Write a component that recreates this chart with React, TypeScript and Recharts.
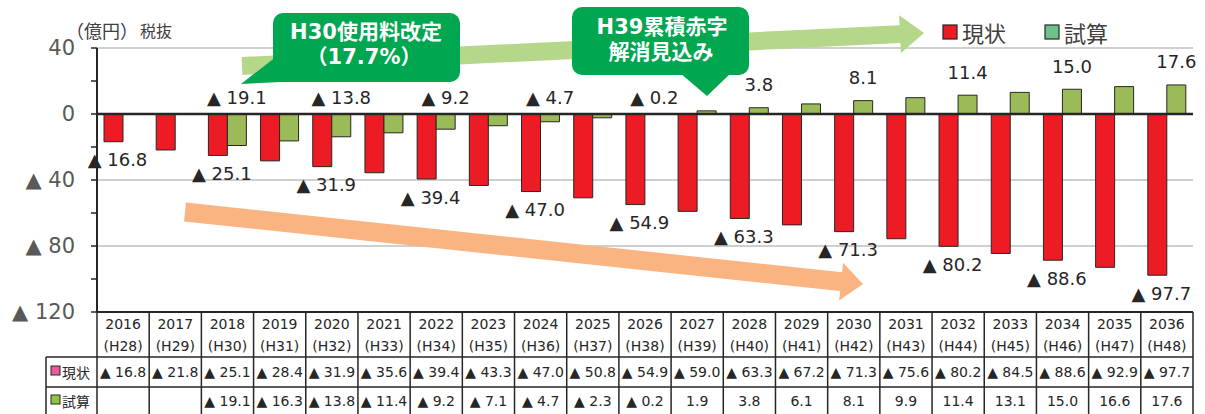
import React from 'react';
import {
  BarChart,
  Bar,
  XAxis,
  YAxis,
  CartesianGrid,
  ReferenceLine,
  LabelList,
  Customized,
} from 'recharts';

// 年度（西暦・和暦）
const years = [
  '2016', '2017', '2018', '2019', '2020', '2021', '2022', '2023', '2024', '2025', '2026',
  '2027', '2028', '2029', '2030', '2031', '2032', '2033', '2034', '2035', '2036',
];
const eras = [
  'H28', 'H29', 'H30', 'H31', 'H32', 'H33', 'H34', 'H35', 'H36', 'H37', 'H38',
  'H39', 'H40', 'H41', 'H42', 'H43', 'H44', 'H45', 'H46', 'H47', 'H48',
];

// 累積収支（億円）: 現状 / 試算
const currentValues = [
  -16.8, -21.8, -25.1, -28.4, -31.9, -35.6, -39.4, -43.3, -47.0, -50.8, -54.9,
  -59.0, -63.3, -67.2, -71.3, -75.6, -80.2, -84.5, -88.6, -92.9, -97.7,
];
const trialValues: (number | null)[] = [
  null, null, -19.1, -16.3, -13.8, -11.4, -9.2, -7.1, -4.7, -2.3, -0.2,
  1.9, 3.8, 6.1, 8.1, 9.9, 11.4, 13.1, 15.0, 16.6, 17.6,
];

const yTicks = [40, 20, 0, -20, -40, -60, -80, -100, -120];
const labeledTicks = [40, 0, -40, -80, -120];
const gridValues = [40, -40, -80];

const seriesNames = { current: '現状', trial: '試算' };

const data = years.map((year, i) => ({
  year,
  era: eras[i],
  current: currentValues[i],
  trial: trialValues[i],
}));

// layout
const CHART_W = 1205;
const CHART_H = 414;
const MARGIN = { top: 48, right: 12, bottom: 102, left: 8 };
const Y_AXIS_W = 89;
const PLOT_L = MARGIN.left + Y_AXIS_W;
const PLOT_R = CHART_W - MARGIN.right;
const PLOT_B = CHART_H - MARGIN.bottom;
const COL_W = (PLOT_R - PLOT_L) / years.length;

const FONT = "'DejaVu Sans', 'Noto Sans CJK JP', sans-serif";
const JP_FONT = "'Noto Sans CJK JP', 'DejaVu Sans', sans-serif";
const INK = '#262626';
const RED = '#ED1C24';
const GREEN = '#9BBB59';

const fmt = (v: number) => (v < 0 ? `▲ ${Math.abs(v).toFixed(1)}` : v.toFixed(1));

const tickFmt = (v: number) =>
  labeledTicks.includes(v) ? (v < 0 ? `▲ ${Math.abs(v)}` : `${v}`) : '';

function CurrentLabel(props: any) {
  const { x, y, width, height, value } = props;
  const idx = props.index ?? currentValues.indexOf(value);
  if (value == null || idx % 2 !== 0) return null;
  const bottom = Math.max(Number(y), Number(y) + Number(height));
  return (
    <text
      x={Number(x) + Number(width) / 2 + 4}
      y={bottom + 18}
      textAnchor="middle"
      dominantBaseline="central"
      fontSize={18}
      fontFamily={FONT}
      fill={INK}
    >
      {fmt(value)}
    </text>
  );
}

function TrialLabel(props: any) {
  const { x, y, width, height, value } = props;
  const idx = props.index ?? trialValues.indexOf(value);
  if (value == null || idx % 2 !== 0) return null;
  const top = Math.min(Number(y), Number(y) + Number(height));
  return (
    <text
      x={Number(x) + Number(width) / 2}
      y={value < 0 ? top - 17 : top - 23}
      textAnchor="middle"
      dominantBaseline="central"
      fontSize={18}
      fontFamily={FONT}
      fill={INK}
    >
      {fmt(value)}
    </text>
  );
}

function arrowPoints(
  x1: number, y1: number, x2: number, y2: number,
  half: number, headLen: number, headHalf: number,
) {
  const dx = x2 - x1;
  const dy = y2 - y1;
  const len = Math.hypot(dx, dy);
  const ux = dx / len;
  const uy = dy / len;
  const px = -uy;
  const py = ux;
  const bx = x2 - ux * headLen;
  const by = y2 - uy * headLen;
  const pts = [
    [x1 + px * half, y1 + py * half],
    [bx + px * half, by + py * half],
    [bx + px * headHalf, by + py * headHalf],
    [x2, y2],
    [bx - px * headHalf, by - py * headHalf],
    [bx - px * half, by - py * half],
    [x1 - px * half, y1 - py * half],
  ];
  return pts.map((p) => `${p[0].toFixed(1)},${p[1].toFixed(1)}`).join(' ');
}

// 推移の矢印・吹き出し・凡例・見出し
function Annotations() {
  return (
    <g>
      <polygon points={arrowPoints(242, 66, 924, 33, 9, 24, 19)} fill="#B5D78A" />
      <polygon points={arrowPoints(185, 212, 863, 284, 9.5, 22, 19)} fill="#F9B482" />

      <g fill="#00A650">
        <rect x={273} y={13} width={187} height={69} rx={10} ry={10} />
        <polygon points="277,56 241,84 302,81" />
        <rect x={572} y={7} width={177} height={68} rx={10} ry={10} />
        <polygon points="680,73 707,96 731,73" />
      </g>
      <g fill="#FFFFFF" fontFamily={FONT} fontWeight="bold" fontSize={21} textAnchor="middle">
        <text x={366} y={32} dominantBaseline="central">H30使用料改定</text>
        <text x={364} y={57} dominantBaseline="central">（17.7%）</text>
        <text x={662} y={27} dominantBaseline="central">H39累積赤字</text>
        <text x={661} y={52} dominantBaseline="central">解消見込み</text>
      </g>

      <text x={66} y={30} dominantBaseline="central" fontFamily={JP_FONT} fill="#404040">
        <tspan fontSize={18}>（億円）</tspan>
        <tspan fontSize={16} dx={2}>税抜</tspan>
      </text>

      <rect x={943} y={25} width={14} height={14} fill={RED} stroke={INK} strokeWidth={1.2} />
      <text x={962} y={32} dominantBaseline="central" fontSize={22} fontFamily={JP_FONT} fill="#404040">
        {seriesNames.current}
      </text>
      <rect x={1045} y={25} width={14} height={14} fill="#6CC18D" stroke={INK} strokeWidth={1.2} />
      <text x={1064} y={32} dominantBaseline="central" fontSize={22} fontFamily={JP_FONT} fill="#404040">
        {seriesNames.trial}
      </text>
    </g>
  );
}

// 下部のデータテーブル
function DataTable() {
  const headTop = PLOT_B;
  const headBottom = 357;
  const row1Bottom = 387;
  const tableBottom = CHART_H + 4;
  const rowLeft = 46;
  const cells: React.ReactNode[] = [];
  years.forEach((yr, i) => {
    const cx = PLOT_L + COL_W * (i + 0.5);
    cells.push(
      <text key={`y${i}`} x={cx} y={324} textAnchor="middle" dominantBaseline="central">{yr}</text>,
      <text key={`e${i}`} x={cx} y={346} textAnchor="middle" dominantBaseline="central">{`(${eras[i]})`}</text>,
      <text key={`c${i}`} x={cx} y={372} textAnchor="middle" dominantBaseline="central">{fmt(currentValues[i])}</text>,
    );
    const t = trialValues[i];
    if (t != null) {
      cells.push(
        <text key={`t${i}`} x={cx} y={401} textAnchor="middle" dominantBaseline="central">{fmt(t)}</text>,
      );
    }
  });
  const vLines = years.map((_, i) => PLOT_L + COL_W * i).concat([PLOT_R]);
  return (
    <g>
      <g stroke={INK} strokeWidth={1.5}>
        <line x1={PLOT_L} x2={PLOT_R} y1={headTop} y2={headTop} strokeWidth={2} />
        <line x1={rowLeft} x2={PLOT_R} y1={headBottom} y2={headBottom} />
        <line x1={rowLeft} x2={PLOT_R} y1={row1Bottom} y2={row1Bottom} />
        <line x1={rowLeft} x2={rowLeft} y1={headBottom} y2={tableBottom} />
        {vLines.map((x, i) => (
          <line key={i} x1={x} x2={x} y1={headTop} y2={tableBottom} />
        ))}
      </g>
      <g fontSize={14} fontFamily={FONT} fill={INK}>{cells}</g>
      <rect x={51} y={366} width={9} height={9} fill="#EC5A9A" stroke={INK} strokeWidth={1} />
      <text x={62} y={372} dominantBaseline="central" fontSize={14} fontFamily={JP_FONT} fill={INK}>
        {seriesNames.current}
      </text>
      <rect x={51} y={395} width={9} height={9} fill="#8CC63F" stroke={INK} strokeWidth={1} />
      <text x={62} y={401} dominantBaseline="central" fontSize={14} fontFamily={JP_FONT} fill={INK}>
        {seriesNames.trial}
      </text>
    </g>
  );
}

export default function App() {
  return (
    <div style={{ position: 'absolute', left: 0, top: 0, width: CHART_W, height: CHART_H, background: '#FFFFFF' }}>
      <BarChart
        width={CHART_W}
        height={CHART_H}
        data={data}
        margin={MARGIN}
        barGap={0}
        style={{ fontFamily: FONT }}
      >
        <CartesianGrid
          vertical={false}
          horizontalValues={gridValues}
          stroke="#BFBFBF"
          strokeWidth={1.5}
        />
        <XAxis dataKey="year" hide />
        <YAxis
          width={Y_AXIS_W}
          domain={[-120, 40]}
          ticks={yTicks}
          interval={0}
          tickFormatter={tickFmt}
          tickSize={6}
          tickMargin={16}
          axisLine={{ stroke: INK, strokeWidth: 2 }}
          tickLine={{ stroke: INK, strokeWidth: 1.5 }}
          tick={{ fill: '#595959', fontSize: 21, fontFamily: FONT }}
        />
        <Bar
          dataKey="current"
          name={seriesNames.current}
          fill={RED}
          stroke={INK}
          strokeWidth={1}
          barSize={19}
          isAnimationActive={false}
        >
          <LabelList dataKey="current" content={CurrentLabel} />
        </Bar>
        <Bar
          dataKey="trial"
          name={seriesNames.trial}
          fill={GREEN}
          stroke={INK}
          strokeWidth={1}
          barSize={19}
          isAnimationActive={false}
        >
          <LabelList dataKey="trial" content={TrialLabel} />
        </Bar>
        <ReferenceLine y={0} stroke={INK} strokeWidth={2.5} />
        <Customized component={<DataTable />} />
        <Customized component={<Annotations />} />
      </BarChart>
    </div>
  );
}
